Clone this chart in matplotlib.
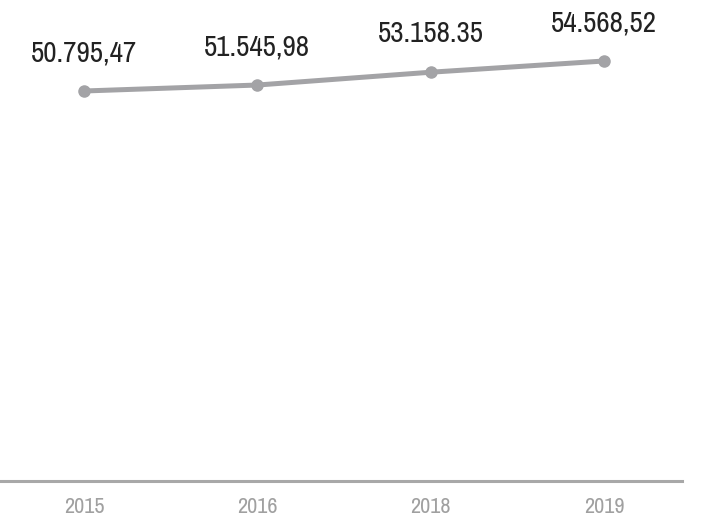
import numpy as np
import matplotlib.pyplot as plt

years = ["2015", "2016", "2018", "2019"]
values = [50795.47, 51545.98, 53158.35, 54568.52]
labels = ["50.795,47", "51.545,98", "53.158.35", "54.568,52"]

plt.rcParams['font.family'] = ['Archivo Narrow', 'DejaVu Sans']

fig = plt.figure(figsize=(7.05, 5.19), dpi=100)
# axes spans from the top of the figure down to the baseline line
ax = fig.add_axes([0, 1 - 481 / 519, 682 / 705, 481 / 519])

x = np.arange(len(years))
ax.plot(x, values, color='#a3a3a6', lw=3.6, marker='o', ms=8,
        solid_capstyle='round', zorder=3)

for xi, v, lab in zip(x, values, labels):
    ax.annotate(lab, (xi, v), xytext=(0, 21.5), textcoords='offset points',
                ha='center', va='baseline', fontsize=21, color='#222222')

ax.set_xlim(-0.485, 3.45)
ax.set_ylim(1733, 62243)

for s in ['top', 'right', 'left']:
    ax.spines[s].set_visible(False)
ax.spines['bottom'].set_color('#a8a8a8')
ax.spines['bottom'].set_linewidth(2.2)

ax.set_yticks([])
ax.set_xticks(x)
ax.set_xticklabels(years, fontsize=16, color='#a0a0a0')
ax.tick_params(axis='x', length=0, pad=11.5)

fig.savefig('out.png', dpi=100)
